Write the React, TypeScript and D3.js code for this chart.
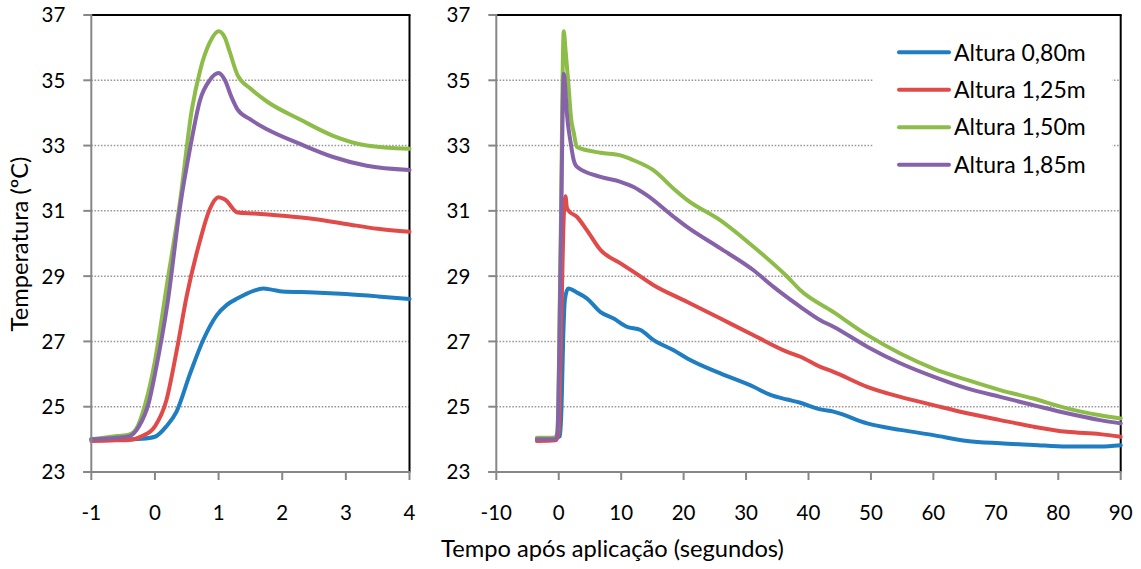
import React from "react";
import * as d3 from "d3";

type Pt = [number, number];

// ---------- data (time in s, temperature in ºC) ----------
const yTicks = [23, 25, 27, 29, 31, 33, 35, 37];
const leftXTicks = [-1, 0, 1, 2, 3, 4];
const rightXTicks = [-10, 0, 10, 20, 30, 40, 50, 60, 70, 80, 90];

const seriesNames = ["Altura 0,80m", "Altura 1,25m", "Altura 1,50m", "Altura 1,85m"];
const seriesColors = ["#1f7dc1", "#e04b49", "#8dbd48", "#8663a9"];

const leftBlue: Pt[] = [
  [-1, 24.0], [-0.5, 24.0], [-0.2, 24.02], [0, 24.08], [0.18, 24.4], [0.34, 24.85],
  [0.55, 26.0], [0.76, 27.05], [0.97, 27.8], [1.13, 28.12], [1.3, 28.32], [1.55, 28.55],
  [1.7, 28.62], [1.85, 28.58], [2.0, 28.53], [2.5, 28.5], [3.0, 28.45], [3.5, 28.38], [4.0, 28.3],
];
const leftRed: Pt[] = [
  [-1, 23.95], [-0.6, 23.97], [-0.4, 23.98], [-0.2, 24.1], [0, 24.4], [0.18, 25.2],
  [0.34, 26.7], [0.5, 28.4], [0.71, 30.1], [0.86, 31.05], [1.0, 31.42], [1.1, 31.35],
  [1.3, 30.95], [1.55, 30.92], [2.0, 30.85], [2.5, 30.75], [3.0, 30.6], [3.5, 30.45], [4.0, 30.36],
];
const leftGreen: Pt[] = [
  [-1, 24.0], [-0.6, 24.1], [-0.4, 24.15], [-0.3, 24.3], [-0.15, 25.1], [0, 26.4],
  [0.185, 28.7], [0.395, 31.3], [0.58, 34.1], [0.71, 35.3], [0.86, 36.15], [1.0, 36.5],
  [1.1, 36.3], [1.17, 35.9], [1.3, 35.15], [1.5, 34.75], [1.76, 34.35], [2.28, 33.8],
  [2.8, 33.3], [3.33, 33.0], [4.0, 32.9],
];
const leftPurple: Pt[] = [
  [-1, 24.0], [-0.6, 24.05], [-0.4, 24.1], [-0.25, 24.4], [-0.1, 25.1], [0, 26.0],
  [0.2, 28.2], [0.4, 31.2], [0.56, 33.0], [0.71, 34.4], [0.86, 35.0], [1.0, 35.22],
  [1.1, 35.0], [1.2, 34.5], [1.3, 34.1], [1.5, 33.8], [1.76, 33.5], [2.28, 33.05],
  [2.8, 32.65], [3.33, 32.38], [4.0, 32.25],
];

const rightBlue: Pt[] = [
  [-3.5, 24.03], [-0.5, 24.05], [0.2, 24.1], [0.45, 25.0], [0.7, 27.0], [1.0, 28.3],
  [1.5, 28.62], [2.9, 28.5], [4.5, 28.32], [6.7, 27.9], [8.8, 27.7], [10.9, 27.45],
  [13.1, 27.35], [15.2, 27.04], [18.4, 26.73], [20.6, 26.48], [25.9, 26.02], [31.2, 25.61],
  [33.9, 25.36], [36.6, 25.22], [38.7, 25.12], [41.9, 24.92], [44, 24.85], [49.4, 24.49],
  [54.7, 24.29], [60, 24.13], [65.4, 23.95], [70.7, 23.88], [76, 23.83], [81.4, 23.78],
  [86.7, 23.78], [90, 23.82],
];
const rightRed: Pt[] = [
  [-3.5, 23.95], [-0.5, 23.97], [0, 24.2], [0.4, 27.5], [0.8, 30.8], [1.07, 31.45],
  [1.3, 31.1], [1.6, 31.0], [2.9, 30.82], [4.5, 30.41], [6.7, 29.8], [9.9, 29.39],
  [12, 29.13], [15.2, 28.72], [20.6, 28.21], [25.9, 27.7], [31.2, 27.19], [36.6, 26.68],
  [38.7, 26.53], [41.9, 26.22], [44, 26.07], [49.4, 25.61], [54.7, 25.3], [60, 25.05],
  [65.4, 24.8], [70.7, 24.59], [76, 24.39], [81.4, 24.23], [86.7, 24.16], [90, 24.08],
];
const rightGreen: Pt[] = [
  [-3.5, 24.05], [-0.5, 24.05], [-0.2, 24.3], [0.3, 30.0], [0.8, 36.5], [1.1, 35.9],
  [1.5, 35.0], [2.0, 33.8], [2.4, 33.4], [2.9, 32.96], [6.7, 32.78], [9.9, 32.7],
  [12, 32.55], [15.2, 32.24], [18.4, 31.68], [20.6, 31.33], [25.9, 30.71], [31.2, 29.9],
  [36.6, 28.98], [38.7, 28.57], [44, 27.9], [49.4, 27.2], [54.7, 26.63], [60, 26.17],
  [65.4, 25.82], [70.7, 25.51], [76, 25.25], [81.4, 24.95], [86.7, 24.74], [90, 24.64],
];
const rightPurple: Pt[] = [
  [-3.5, 24.0], [-0.5, 24.0], [-0.2, 24.2], [0.3, 29.5], [0.8, 35.2], [1.1, 34.6],
  [1.3, 34.0], [1.9, 33.1], [2.4, 32.55], [2.9, 32.35], [6.7, 32.04], [9.9, 31.89],
  [12, 31.73], [14.1, 31.48], [18.4, 30.82], [20.6, 30.5], [25.9, 29.85], [31.2, 29.18],
  [34.4, 28.67], [38.7, 28.06], [41.9, 27.65], [44, 27.45], [49.4, 26.84], [54.7, 26.33],
  [60, 25.92], [65.4, 25.56], [70.7, 25.3], [76, 25.05], [81.4, 24.8], [86.7, 24.59],
  [90, 24.49],
];

const leftSeries = [leftBlue, leftRed, leftGreen, leftPurple];
const rightSeries = [rightBlue, rightRed, rightGreen, rightPurple];

// ---------- layout ----------
const W = 1141;
const H = 569;
const TOP = 15;
const BOTTOM = 472;
const FONT = "Lato, 'Open Sans', 'DejaVu Sans', sans-serif";
const AXIS_GRAY = "#878787";
const TICK_FS = 20.5;
const TITLE_FS = 23.7;

const yScale = d3.scaleLinear().domain([23, 37]).range([BOTTOM, TOP]);

function Panel({
  x0, x1, domain, xTicks, series, curve,
}: {
  x0: number; x1: number; domain: [number, number]; xTicks: number[];
  series: Pt[][]; curve: d3.CurveFactory;
}) {
  const xScale = d3.scaleLinear().domain(domain).range([x0, x1]);
  const line = d3.line<Pt>().x((d) => xScale(d[0])).y((d) => yScale(d[1])).curve(curve);
  return (
    <g>
      {yTicks.filter((v) => v > 23 && v < 37).map((v) => (
        <line key={"g" + v} x1={x0} x2={x1} y1={yScale(v)} y2={yScale(v)}
          stroke="#9a9a9a" strokeWidth={1.5} strokeDasharray="1.6,1.6" />
      ))}
      {/* top & right border */}
      <line x1={x0} x2={x1 + 1} y1={TOP} y2={TOP} stroke="#000" strokeWidth={2} />
      <line x1={x1} x2={x1} y1={TOP} y2={BOTTOM} stroke="#000" strokeWidth={2} />
      {/* series */}
      {series.map((s, i) => (
        <path key={"s" + i} d={line(s) || ""} fill="none" stroke={seriesColors[i]}
          strokeWidth={4} strokeLinejoin="round" strokeLinecap="round" />
      ))}
      {/* y axis */}
      <line x1={x0} x2={x0} y1={TOP - 1} y2={BOTTOM + 1} stroke={AXIS_GRAY} strokeWidth={2} />
      {yTicks.map((v) => (
        <g key={"y" + v}>
          <line x1={x0 - 8} x2={x0} y1={yScale(v)} y2={yScale(v)} stroke={AXIS_GRAY} strokeWidth={2} />
          <text x={x0 - 26} y={yScale(v)} dy="0.36em" textAnchor="end" fontSize={TICK_FS}
            fontFamily={FONT} fill="#000">{v}</text>
        </g>
      ))}
      {/* x axis */}
      <line x1={x0 - 8} x2={x1 + 1} y1={BOTTOM} y2={BOTTOM} stroke={AXIS_GRAY} strokeWidth={2} />
      {xTicks.map((v) => (
        <g key={"x" + v}>
          <line x1={xScale(v)} x2={xScale(v)} y1={BOTTOM} y2={BOTTOM + 8} stroke={AXIS_GRAY} strokeWidth={2} />
          <text x={xScale(v)} y={520} textAnchor="middle" fontSize={TICK_FS}
            fontFamily={FONT} fill="#000">{v}</text>
        </g>
      ))}
    </g>
  );
}

export default function App() {
  const legendY = [52.3, 89.8, 127.2, 164.7];
  return (
    <svg width={W} height={H} viewBox={`0 0 ${W} ${H}`}
      style={{ position: "absolute", left: 0, top: 0, background: "#fff" }}>
      <rect x={0} y={0} width={W} height={H} fill="#fff" />
      <Panel x0={91.3} x1={409.5} domain={[-1, 4]} xTicks={leftXTicks}
        series={leftSeries} curve={d3.curveMonotoneX} />
      <Panel x0={496.3} x1={1120.7} domain={[-10, 90]} xTicks={rightXTicks}
        series={rightSeries} curve={d3.curveMonotoneX} />
      {/* legend */}
      <rect x={873} y={30} width={239} height={156} fill="#fff" />
      {seriesNames.map((n, i) => (
        <g key={n}>
          <line x1={899} x2={949} y1={legendY[i]} y2={legendY[i]} stroke={seriesColors[i]}
            strokeWidth={4} strokeLinecap="round" />
          <text x={954} y={legendY[i]} dy="0.36em" fontSize={23} fontFamily={FONT} fill="#000">{n}</text>
        </g>
      ))}
      {/* axis titles */}
      <text x={612.5} y={557} textAnchor="middle" fontSize={TITLE_FS} fontFamily={FONT} fill="#000">
        Tempo após aplicação (segundos)
      </text>
      <text transform="translate(28,244) rotate(-90)" textAnchor="middle" fontSize={TITLE_FS}
        fontFamily={FONT} fill="#000">
        Temperatura (ºC)
      </text>
    </svg>
  );
}
